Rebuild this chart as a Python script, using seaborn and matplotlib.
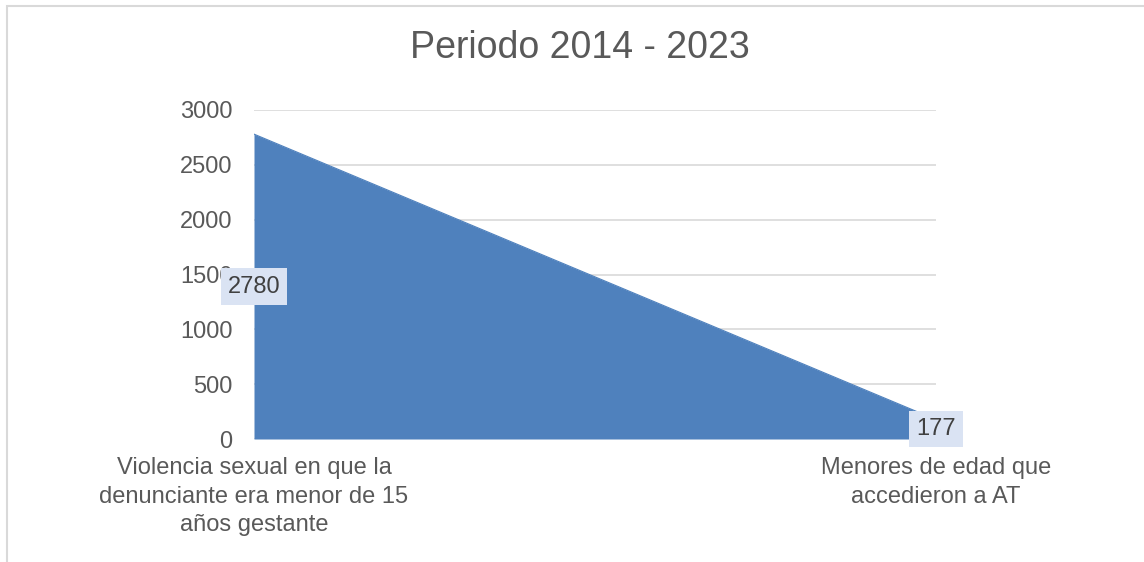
import matplotlib
matplotlib.use("Agg")
import matplotlib.pyplot as plt
import matplotlib.patches as mpatches
import seaborn as sns
import pandas as pd

categories = ["Violencia sexual en que la\ndenunciante era menor de 15\naños gestante",
              "Menores de edad que\naccedieron a AT"]
values = [2780, 177]
yticks = [0, 500, 1000, 1500, 2000, 2500, 3000]
title = "Periodo 2014 - 2023"

sns.set_theme(style="white")
plt.rcParams["font.family"] = ["Liberation Sans", "DejaVu Sans"]

df = pd.DataFrame({"pos": list(range(len(categories))), "value": values})

fig = plt.figure(figsize=(11.44, 5.62), dpi=100)
ax = fig.add_axes([254/1144, 1-439/562, (936-254)/1144, (439-110)/562])

area_color = "#4F81BD"
ax.fill_between(df["pos"], 0, df["value"], color=area_color, lw=0, zorder=2)
sns.lineplot(data=df, x="pos", y="value", ax=ax, color=area_color, lw=0.8, zorder=3)

ax.set_xlim(0, len(categories) - 1)
ax.set_ylim(0, 3000)
ax.set_yticks(yticks)
ax.set_yticklabels([str(t) for t in yticks])
ax.set_xticks(df["pos"])
ax.set_xticklabels(categories, linespacing=1.38)
ax.set_xlabel("")
ax.set_ylabel("")
ax.grid(axis="y", color="#D9D9D9", lw=1.2, zorder=0)
ax.grid(axis="x", visible=False)
for s in ax.spines.values():
    s.set_visible(False)
ax.tick_params(axis="y", length=0, pad=15.5, labelsize=17, labelcolor="#595959")
ax.tick_params(axis="x", length=0, pad=13, labelsize=17, labelcolor="#595959")

for p, v in zip(df["pos"], df["value"]):
    ax.text(p, v / 2, str(v), ha="center", va="center", fontsize=17, color="#404040",
            zorder=5, clip_on=False,
            bbox=dict(boxstyle="square,pad=0.3", fc="#DAE3F3", ec="none"))

fig.text(580/1144, 1-48/562, title, ha="center", va="center", fontsize=27, color="#595959")

border = mpatches.Rectangle((7/1144, -0.5), 2, 0.5 + (1-6/562), transform=fig.transFigure,
                            fill=False, ec="#D9D9D9", lw=1.5)
fig.patches.append(border)

fig.savefig("out.png", dpi=100)
